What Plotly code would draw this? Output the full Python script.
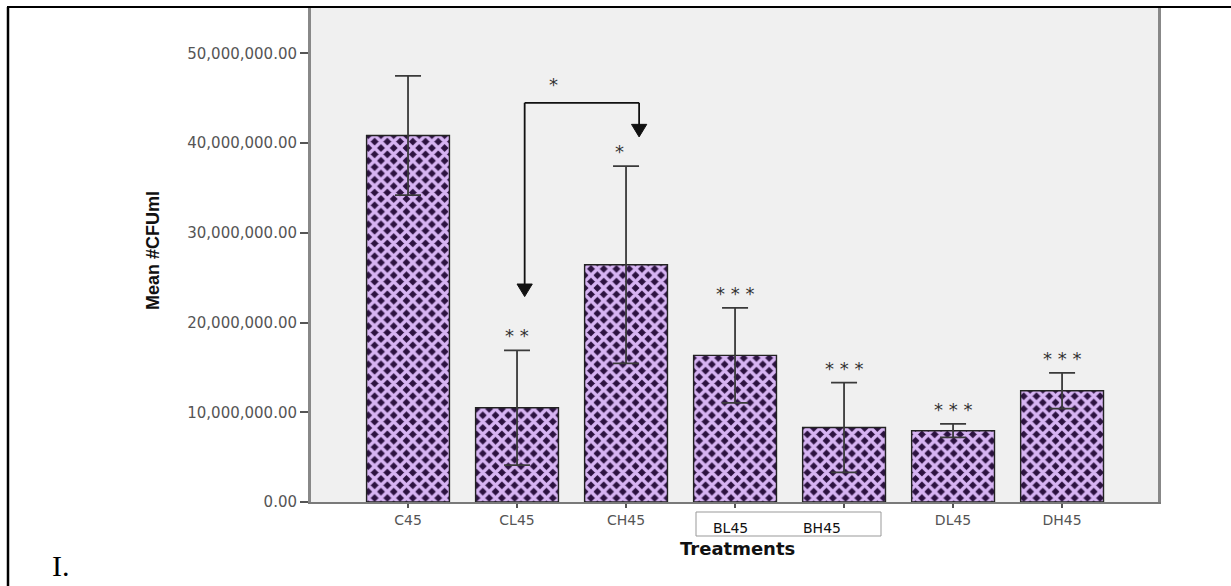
import plotly.graph_objects as go

# ---- data ----
categories = ["C45", "CL45", "CH45", "BL45", "BH45", "DL45", "DH45"]
mean_cfu = [40.85e6, 10.5e6, 26.45e6, 16.35e6, 8.3e6, 7.95e6, 12.4e6]
err_cfu = [6.65e6, 6.4e6, 11.0e6, 5.3e6, 5.0e6, 0.75e6, 2.0e6]
stars = ["", "* *", "*", "* * *", "* * *", "* * *", "* * *"]
boxed = ["BL45", "BH45"]
y_ticks = [0, 10e6, 20e6, 30e6, 40e6, 50e6]

# bracket comparing CL45 and CH45
bracket_left, bracket_right = 1.07, 2.12
bracket_top = 44.5e6
bracket_left_tip = 22.9e6
bracket_right_tip = 40.7e6
bracket_star = "*"

W, H = 1231, 586
L, R, T, B = 311, 73, 8, 84
pw, ph = W - L - R, H - T - B

def px(xp):
    return (xp - L) / pw

def py(yp):
    return (H - B - yp) / ph

x_idx = list(range(len(categories)))
ticktext = ["" if c in boxed else c for c in categories]

fig = go.Figure()
fig.add_trace(go.Bar(
    x=x_idx, y=mean_cfu, width=0.76,
    marker=dict(color="#2c1240", line=dict(color="#222", width=1.4),
                pattern=dict(shape="x", fgcolor="#d7b4f3", fgopacity=1, size=9, solidity=0.62)),
    error_y=dict(type="data", array=err_cfu, color="#3a3a3a", thickness=1.8, width=13),
    showlegend=False, hoverinfo="skip",
))

annotations = []
for i, (m, e, s) in enumerate(zip(mean_cfu, err_cfu, stars)):
    if s:
        annotations.append(dict(x=i - (0.06 if s == "*" else 0), y=m + e, yshift=2, text=s,
                                showarrow=False, xanchor="center", yanchor="bottom",
                                font=dict(family="DejaVu Sans", size=18, color="#333")))

# bracket lines and arrowheads
shapes = []
line_style = dict(color="#111", width=1.8)
shapes.append(dict(type="line", xref="x", yref="y", x0=bracket_left, x1=bracket_left,
                   y0=bracket_top, y1=bracket_left_tip + 1.2e6, line=line_style))
shapes.append(dict(type="line", xref="x", yref="y", x0=bracket_left, x1=bracket_right,
                   y0=bracket_top, y1=bracket_top, line=line_style))
shapes.append(dict(type="line", xref="x", yref="y", x0=bracket_right, x1=bracket_right,
                   y0=bracket_top, y1=bracket_right_tip + 1.2e6, line=line_style))
hw, hh = 0.07, 1.4e6
for bx, tip in [(bracket_left, bracket_left_tip), (bracket_right, bracket_right_tip)]:
    shapes.append(dict(type="path", xref="x", yref="y",
                       path=f"M {bx - hw},{tip + hh} L {bx + hw},{tip + hh} L {bx},{tip} Z",
                       fillcolor="#111", line=dict(color="#111", width=1)))
annotations.append(dict(x=(bracket_left + bracket_right) / 2 - 0.26, y=bracket_top, yshift=6,
                        text=bracket_star, showarrow=False, xanchor="center", yanchor="bottom",
                        font=dict(family="DejaVu Sans", size=18, color="#333")))

# box over BL45/BH45 labels
shapes.append(dict(type="rect", xref="paper", yref="paper", x0=px(696), x1=px(881),
                   y0=py(536), y1=py(512), fillcolor="white", line=dict(color="#999", width=1),
                   layer="above"))
for lab, xc in zip(boxed, [730, 822]):
    annotations.append(dict(xref="paper", yref="paper", x=px(xc), y=py(528), text=lab,
                            showarrow=False, xanchor="center", yanchor="middle",
                            font=dict(family="DejaVu Sans", size=14, color="#111")))

# page frame
shapes.append(dict(type="line", xref="paper", yref="paper", x0=px(8), x1=px(8),
                   y0=py(7), y1=py(H + 5), line=dict(color="black", width=2.5)))
shapes.append(dict(type="line", xref="paper", yref="paper", x0=px(7), x1=px(W + 5),
                   y0=py(7), y1=py(7), line=dict(color="black", width=2)))

# titles
annotations.append(dict(xref="paper", yref="paper", x=px(737), y=py(548), text="<b>Treatments</b>",
                        showarrow=False, xanchor="center", yanchor="middle",
                        font=dict(family="DejaVu Sans", size=18, color="#111")))
annotations.append(dict(xref="paper", yref="paper", x=px(153), y=py(251), text="<b>Mean #CFUml</b>",
                        textangle=-90, showarrow=False, xanchor="center", yanchor="middle",
                        font=dict(family="Liberation Sans", size=18, color="#111")))
annotations.append(dict(xref="paper", yref="paper", x=px(61), y=py(565), text="I.",
                        showarrow=False, xanchor="center", yanchor="middle",
                        font=dict(family="Liberation Serif", size=30, color="#000")))

fig.update_layout(
    width=W, height=H, margin=dict(l=L, r=R, t=T, b=B),
    paper_bgcolor="white", plot_bgcolor="#f0f0f0",
    shapes=shapes, annotations=annotations, bargap=0.2,
    xaxis=dict(range=[-0.89, 6.88], tickvals=x_idx, ticktext=ticktext, showgrid=False,
               zeroline=False, showline=True, linecolor="#7a7a7a", linewidth=2,
               ticks="outside", ticklen=4, tickcolor="#555", tickwidth=2,
               tickfont=dict(family="DejaVu Sans", size=14, color="#555")),
    yaxis=dict(range=[0, 55.07e6], tickvals=y_ticks, tickformat=",.2f", showgrid=False,
               zeroline=False, showline=True, mirror=True, linecolor="#888", linewidth=3,
               ticks="outside", ticklen=8, tickcolor="#555", tickwidth=2,
               tickfont=dict(family="DejaVu Sans", size=15, color="#555")),
)

fig.write_html("out.html", config={"displayModeBar": False},
               post_script="document.body.style.margin='0';")
